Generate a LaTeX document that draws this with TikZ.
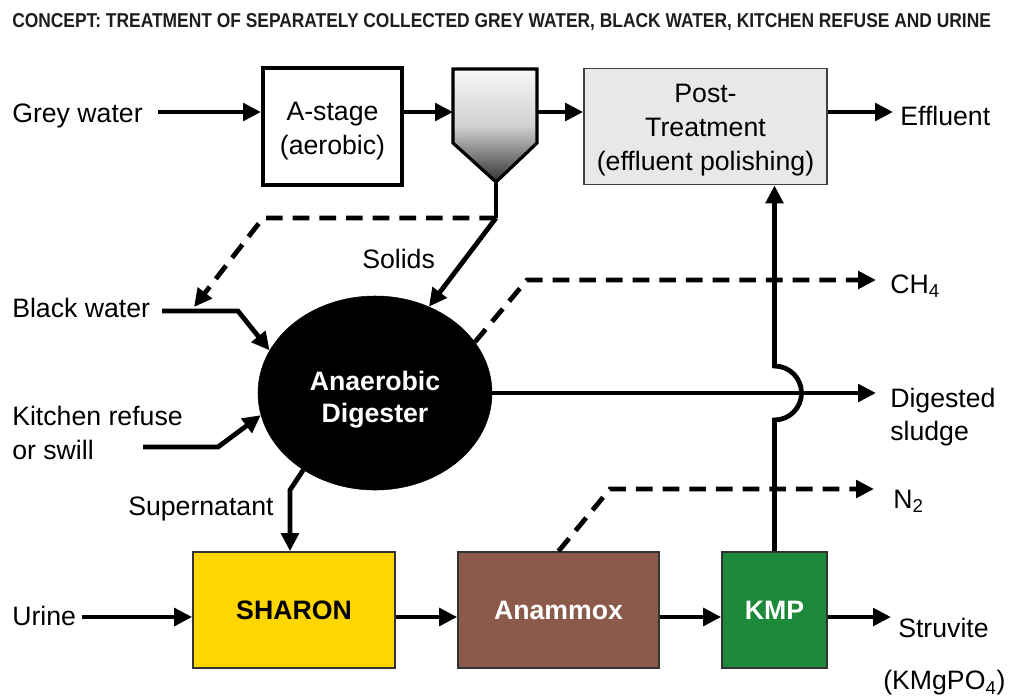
\documentclass[tikz,border=0pt]{standalone}
\usepackage{fontspec}
\usepackage{graphicx}
\setmainfont{Liberation Sans}
\usetikzlibrary{arrows.meta,calc,shapes.geometric}
\definecolor{sharonY}{RGB}{255,214,0}
\definecolor{anamB}{RGB}{140,90,75}
\definecolor{kmpG}{RGB}{28,138,58}
\definecolor{titleC}{RGB}{30,30,30}
\tikzset{
  tipA/.style={-{Triangle[length=13.5pt,width=13pt]}},
  ln/.style={line width=3.6pt},
  arr/.style={ln,tipA},
  dsh/.style={line width=3.6pt,dash pattern=on 12.5pt off 7.5pt},
  lbl/.style={inner sep=0pt,anchor=west,font=\fontsize{20}{25}\selectfont,align=left},
  proc/.style={draw,inner sep=0pt,align=center,font=\fontsize{20}{25}\selectfont},
  ptext/.style={inner sep=0pt,align=center,font=\fontsize{20}{25.5}\selectfont},
  bproc/.style={proc,line width=1.2pt,draw=black!80,font=\fontsize{20}{25}\selectfont\bfseries}
}
\begin{document}
\begin{tikzpicture}[x=0.75pt,y=-0.75pt]
\useasboundingbox (0,0) rectangle (1013,697);

% title
\node[anchor=west,inner sep=0pt,text=titleC] (title) at (12,22)
  {\resizebox{734pt}{10.5pt}{\bfseries CONCEPT: TREATMENT OF SEPARATELY COLLECTED GREY WATER, BLACK WATER, KITCHEN REFUSE AND URINE}};

% process boxes
\node[proc,line width=3pt,minimum width=104.25pt,minimum height=87.75pt] (astage) at (332.5,126.5) {};
\node[ptext] (astageT) at (332.5,131) {A-stage\\(aerobic)};
\node[proc,line width=1.3pt,draw=black!75,fill=black!9,minimum width=182.25pt,minimum height=87pt] (post) at (705.5,126.5) {};
\node[ptext] (postT) at (705.5,130) {Post-\\Treatment\\(effluent polishing)};

% settler
\shade[top color=black!3,bottom color=black!80,middle color=black!18]
  (453,69) -- (537,69) -- (537,143) -- (496,182) -- (453,143) -- cycle;
\draw[line width=2.4pt,line join=miter] (453,69) -- (537,69) -- (537,143) -- (496,182) -- (453,143) -- cycle;
\coordinate (setin) at (453,112);
\coordinate (setout) at (537,112);
\coordinate (apex) at (496,182);
\coordinate (split) at (496,218);

% anaerobic digester
\node[ellipse,fill=black,draw=black,minimum width=175.5pt,minimum height=145.5pt,inner sep=0pt] (ad) at (375,393) {};
\node[inner sep=0pt,text=white,align=center,font=\fontsize{20}{24}\selectfont\bfseries] (adT) at (375,400) {Anaerobic\\Digester};

% bottom boxes
\node[bproc,fill=sharonY,minimum width=151.5pt,minimum height=87pt] (sharon) at (294,610) {SHARON};
\node[bproc,fill=anamB,text=white,minimum width=150.75pt,minimum height=87pt] (anammox) at (558.5,610) {Anammox};
\node[bproc,fill=kmpG,text=white,minimum width=78.75pt,minimum height=87pt] (kmp) at (774.5,610) {KMP};

% labels
\node[lbl] (grey) at (12,116) {Grey water};
\node[lbl] (effl) at (900,116) {Effluent};
\node[lbl] (solids) at (362,259) {Solids};
\node[lbl] (black) at (12,308) {Black water};
\node[lbl] (ch4) at (890,286) {CH\textsubscript{4}};
\node[lbl] (kitchen) at (12,433) {Kitchen refuse\\or swill};
\node[lbl] (dig) at (890,417) {Digested\\sludge};
\node[lbl] (super) at (128,509) {Supernatant};
\node[lbl] (n2) at (893,501) {N\textsubscript{2}};
\node[lbl] (urine) at (12,616) {Urine};
\node[lbl] (struv) at (898,628) {Struvite};
\node[lbl] (kmg) at (883,683) {(KMgPO\textsubscript{4})};

% free ends
\coordinate (gwS) at (158,112);
\coordinate (effE) at (893,112);
\coordinate (bwS) at (162,311);
\coordinate (bwK) at (238,311);
\coordinate (kS) at (143,447);
\coordinate (kK) at (218,447);
\coordinate (dashK) at (263,218);
\coordinate (dashE) at (194,307);
\coordinate (ch4K) at (527,280);
\coordinate (ch4E) at (876,280);
\coordinate (dsE) at (876,393);
\coordinate (sn) at (290,490);
\coordinate (n2K) at (610,489);
\coordinate (n2E) at (874,489);
\coordinate (uS) at (82,617);
\coordinate (stE) at (891,617);

% grey water line
\draw[arr] (gwS) -- (gwS -| astage.west);
\draw[arr] (gwS -| astage.east) -- (setin);
\draw[arr] (setout) -- (setout -| post.west);
\draw[arr] (setout -| post.east) -- (effE);

% settler outlet
\draw[ln] (apex) -- (split);
\draw[dsh,tipA] (split) -- (dashK) -- (dashE);
\draw[arr] (split) -- (ad.58);

% inputs to digester
\draw[arr] (bwS) -- (bwK) -- (ad.158);
\draw[arr] (kS) -- (kK) -- (ad.191);

% outputs of digester
\draw[dsh,tipA] (ad.27) -- (ch4K) -- (ch4E);
\draw[arr] (ad.east) -- (ad.east -| dsE);
\draw[arr] (ad.227) -- (sn) -- (sn |- sharon.north);

% urine line
\draw[arr] (uS) -- (uS -| sharon.west);
\draw[arr] (uS -| sharon.east) -- (uS -| anammox.west);
\draw[arr] (uS -| anammox.east) -- (uS -| kmp.west);
\draw[arr] (uS -| kmp.east) -- (stE);

% N2
\draw[dsh,tipA] (anammox.north) -- (n2K) -- (n2E);

% KMP to post-treatment with hop-over
\draw[arr] (kmp.north) -- ($(kmp.north |- ad.east)+(0,27)$)
  arc[start angle=90,end angle=-90,radius=27] -- (kmp.north |- post.south);
\end{tikzpicture}
\end{document}
